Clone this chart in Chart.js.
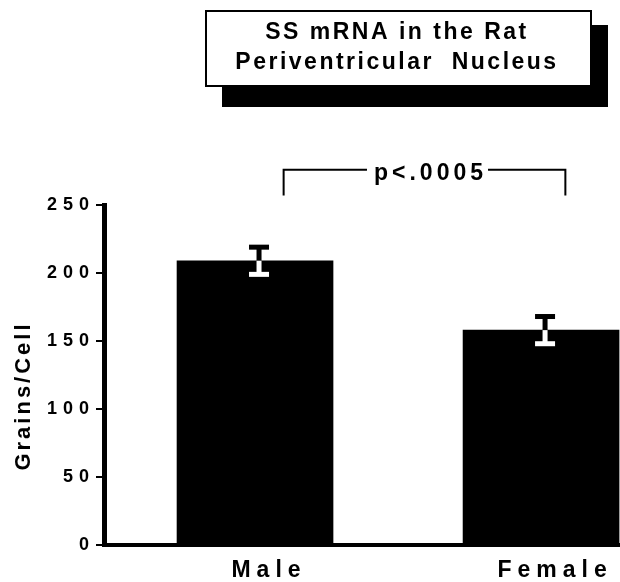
<!DOCTYPE html>
<html><head><meta charset="utf-8">
<script src="https://cdn.jsdelivr.net/npm/chart.js@4/dist/chart.umd.min.js"></script>
<style>html,body{margin:0;padding:0;background:#fff;overflow:hidden}</style></head>
<body><canvas id="c" width="620" height="582"></canvas>
<script>
const categories = ['Male', 'Female'];
const grainsPerCell = [209, 158];
const sem = [10, 10];
const yTicks = [0, 50, 100, 150, 200, 250];
const titleLines = ['SS mRNA in the Rat', 'Periventricular  Nucleus'];
const yAxisTitle = 'Grains/Cell';
const pLabel = 'p<.0005';

const FONT = "'Liberation Sans', Arial, Helvetica, sans-serif";

const decor = {
  id: 'decor',
  beforeDraw(chart) { chart.ctx.letterSpacing = '6px'; },
  afterDraw(chart, args, o) {
    const c = chart.ctx, xs = chart.scales.x, ys = chart.scales.y;
    c.save();
    // error bars
    const meta = chart.getDatasetMeta(0);
    meta.data.forEach((bar, i) => {
      const x = bar.x + o.errOffset;
      const yTop = ys.getPixelForValue(grainsPerCell[i] + sem[i]);
      const yBot = ys.getPixelForValue(grainsPerCell[i] - sem[i]);
      const yMean = bar.y;
      c.fillStyle = '#000';
      c.fillRect(x - 2.5, yTop, 5, yMean - yTop);
      c.fillRect(x - 10, yTop - 2.5, 20, 5);
      c.fillStyle = '#fff';
      c.fillRect(x - 2.5, yMean, 5, yBot - yMean);
      c.fillRect(x - 10, yBot - 2.5, 20, 5);
    });
    // significance bracket
    const bx0 = xs.getPixelForValue(o.bracketX[0]), bx1 = xs.getPixelForValue(o.bracketX[1]);
    const byTop = ys.getPixelForValue(o.bracketY[1]), byBot = ys.getPixelForValue(o.bracketY[0]);
    c.font = 'bold 23px ' + FONT;
    c.letterSpacing = '4px';
    const tw = c.measureText(pLabel).width;
    const mid = (bx0 + bx1) / 2 + 4;
    c.strokeStyle = '#000'; c.lineWidth = 2;
    c.beginPath();
    c.moveTo(bx0, byBot); c.lineTo(bx0, byTop); c.lineTo(mid - tw / 2 - 5, byTop);
    c.moveTo(mid + tw / 2 + 3, byTop); c.lineTo(bx1, byTop); c.lineTo(bx1, byBot);
    c.stroke();
    c.fillStyle = '#000'; c.textAlign = 'center'; c.textBaseline = 'alphabetic';
    c.fillText(pLabel, mid + 2, byTop + 10);
    // title box with shadow
    c.fillStyle = '#000'; c.fillRect(222, 25, 386, 82);
    c.fillStyle = '#fff'; c.fillRect(205, 10, 387, 77);
    c.strokeStyle = '#000'; c.lineWidth = 2; c.strokeRect(206, 11, 385, 75);
    c.fillStyle = '#000';
    c.font = 'bold 23px ' + FONT;
    c.letterSpacing = '2.5px';
    c.textAlign = 'center'; c.textBaseline = 'alphabetic';
    c.fillText(titleLines[0], 397, 39);
    c.fillText(titleLines[1], 397, 69);
    // y axis title
    c.translate(29.5, 396);
    c.rotate(-Math.PI / 2);
    c.font = 'bold 22px ' + FONT;
    c.letterSpacing = '3px';
    c.fillText(yAxisTitle, 0, 0);
    c.restore();
  }
};

new Chart(document.getElementById('c'), {
  type: 'bar',
  data: {
    datasets: [{
      data: categories.map((c, i) => ({ x: i, y: grainsPerCell[i] })),
      backgroundColor: '#000',
      borderWidth: 0,
      barThickness: 156
    }]
  },
  options: {
    responsive: false,
    animation: false,
    devicePixelRatio: 1,
    layout: { padding: { top: 205, left: 0, right: 0, bottom: 0 } },
    plugins: {
      legend: { display: false },
      tooltip: { enabled: false },
      title: { display: false },
      decor: { errOffset: 4, bracketX: [0.1, 1.085], bracketY: [257, 276] }
    },
    scales: {
      x: {
        type: 'linear', min: -0.528, max: 1.276, offset: false,
        afterBuildTicks: s => { s.ticks = categories.map((c, i) => ({ value: i })); },
        ticks: {
          callback: v => categories[v],
          font: { size: 23, weight: 'bold', family: FONT },
          color: '#000', padding: 12, labelOffset: 14, autoSkip: false, maxRotation: 0
        },
        grid: { display: true, offset: false, drawOnChartArea: false, drawTicks: false },
        border: { display: true, color: '#000', width: 4 },
        afterFit: s => { s.height = 37; }
      },
      y: {
        min: 0, max: 250,
        afterBuildTicks: s => { s.ticks = yTicks.map(v => ({ value: v })); },
        ticks: { font: { size: 18, weight: 'bold', family: FONT }, color: '#000', padding: 1 },
        grid: { drawOnChartArea: false, drawTicks: true, tickLength: 8, color: '#000', lineWidth: 2 },
        border: { display: true, color: '#000', width: 5 },
        afterFit: s => { s.width = 104; }
      }
    }
  },
  plugins: [decor]
});
</script>
</body></html>
